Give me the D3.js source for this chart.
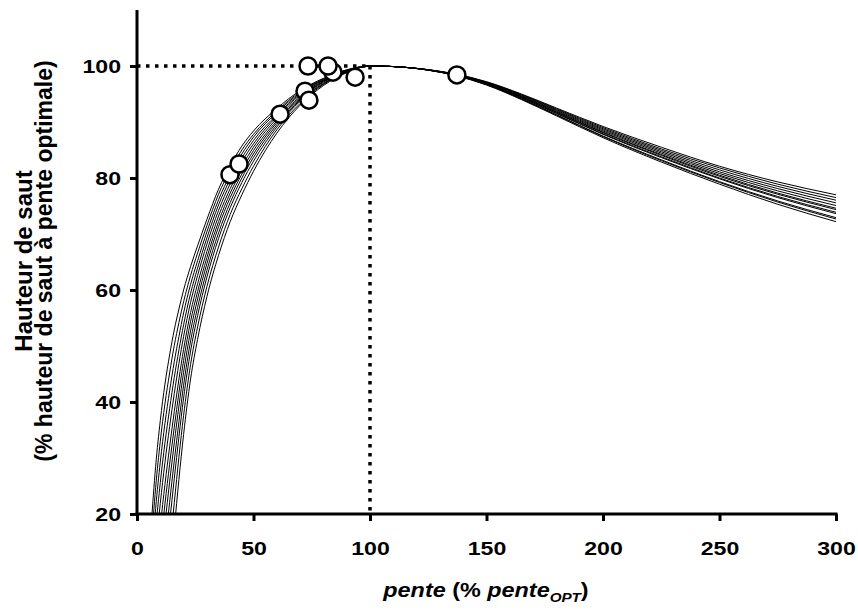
<!DOCTYPE html>
<html>
<head>
<meta charset="utf-8">
<script src="https://cdn.jsdelivr.net/npm/d3@7"></script>
<style>
  html, body { margin: 0; padding: 0; background: #fff; }
  svg { display: block; }
  text { font-family: "Liberation Sans", Arial, sans-serif; font-weight: bold; fill: #000; }
</style>
</head>
<body>
<svg id="chart" width="858" height="610"></svg>
<script>
// ---- data ----
const xGrid = [6, 8, 10, 12, 14, 16, 18, 20, 23, 26, 30, 35, 40, 45, 50, 60, 70, 80, 90, 100,
               110, 125, 137, 150, 165, 180, 200, 225, 250, 275, 300];
const curve0  = [17.4, 28.5, 36.7, 43.2, 48.4, 52.9, 56.6, 60.0, 64.2, 67.9, 72.6, 78.0, 82.2, 85.7, 88.4, 92.4, 95.6, 97.8, 99.3, 100,
                 99.9, 99.34, 98.52, 97.14, 94.9, 92.36, 89.0, 85.2, 81.8, 78.9, 76.5];
const curve1  = [13.8, 24.7, 33.0, 39.7, 45.2, 50.1, 54.2, 57.9, 62.6, 66.6, 71.5, 77.1, 81.4, 85.0, 87.8, 92.0, 95.4, 97.7, 99.3, 100,
                 99.9, 99.35, 98.55, 97.2, 95.0, 92.5, 89.2, 85.5, 82.1, 79.3, 77.0];
const curve2  = [10.2, 21.0, 29.3, 36.2, 42.0, 47.2, 51.7, 55.9, 61.0, 65.2, 70.4, 76.1, 80.6, 84.3, 87.3, 91.7, 95.2, 97.6, 99.2, 100,
                 99.9, 99.32, 98.46, 97.02, 94.7, 92.08, 88.6, 84.7, 81.1, 78.1, 75.56];
const curve3  = [6.6, 17.2, 25.6, 32.7, 38.8, 44.4, 49.3, 53.8, 59.4, 63.9, 69.3, 75.2, 79.8, 83.6, 86.7, 91.3, 95.0, 97.5, 99.2, 100,
                 99.9, 99.33, 98.49, 97.08, 94.8, 92.22, 88.8, 84.95, 81.45, 78.5, 76.04];
const curve4  = [3.0, 13.5, 21.9, 29.2, 35.6, 41.5, 46.9, 51.7, 57.8, 62.6, 68.2, 74.2, 79.0, 82.9, 86.1, 91.0, 94.8, 97.4, 99.1, 100,
                 99.9, 99.3, 98.39, 96.87, 94.45, 91.73, 88.1, 84.05, 80.3, 77.1, 74.36];
const curve5  = [null, 9.2, 17.8, 25.3, 32.0, 38.3, 44.1, 49.4, 56.0, 61.1, 66.9, 73.2, 78.1, 82.1, 85.5, 90.6, 94.5, 97.3, 99.1, 100,
                 99.9, 99.31, 98.43, 96.96, 94.6, 91.94, 88.4, 84.45, 80.8, 77.7, 75.08];
const curve6  = [null, 5.5, 14.1, 21.8, 28.9, 35.5, 41.7, 47.4, 54.4, 59.7, 65.8, 72.2, 77.3, 81.4, 84.9, 90.2, 94.3, 97.2, 99.1, 100,
                 99.9, 99.28, 98.34, 96.78, 94.3, 91.52, 87.8, 83.65, 79.85, 76.5, 73.64];
const curve7  = [null, 1.7, 10.4, 18.3, 25.7, 32.7, 39.3, 45.3, 52.7, 58.4, 64.7, 71.3, 76.5, 80.7, 84.3, 89.9, 94.1, 97.1, 99.0, 100,
                 99.9, 99.3, 98.4, 96.9, 94.5, 91.8, 88.2, 84.2, 80.5, 77.3, 74.6];
const curve8  = [null, null, 6.2, 14.4, 22.1, 29.5, 36.5, 43.0, 50.9, 56.9, 63.5, 70.2, 75.6, 80.0, 83.7, 89.5, 93.9, 96.9, 99.0, 100,
                 99.9, 99.27, 98.3, 96.69, 94.15, 91.31, 87.5, 83.25, 79.35, 75.9, 72.92];
const curve9  = [null, null, 2.1, 10.4, 18.5, 26.3, 33.8, 40.7, 49.1, 55.4, 62.3, 69.2, 74.7, 79.2, 83.0, 89.1, 93.7, 96.8, 98.9, 100,
                 99.9, 99.29, 98.36, 96.81, 94.35, 91.59, 87.9, 83.8, 80.0, 76.7, 73.88];
const curve10 = [null, null, null, 5.2, 13.7, 22.0, 30.2, 37.6, 46.7, 53.4, 60.6, 67.7, 73.5, 78.1, 82.1, 88.6, 93.3, 96.7, 98.9, 100,
                 99.9, 99.25, 98.25, 96.6, 94.0, 91.1, 87.2, 82.85, 78.9, 75.3, 72.2];
const curve11 = [null, null, null, null, 8.5, 17.4, 26.2, 34.2, 44.1, 51.2, 58.8, 66.2, 72.2, 77.0, 81.2, 88.0, 93.0, 96.5, 98.8, 100,
                 99.9, 99.26, 98.28, 96.66, 94.1, 91.24, 87.4, 83.1, 79.2, 75.7, 72.68];
const curves = [curve0, curve1, curve2, curve3, curve4, curve5, curve6, curve7, curve8, curve9, curve10, curve11];

const pointX = [39.9, 43.8, 61.4, 72.1, 73.8, 73.4, 84.1, 82.0, 93.6, 137.3];
const pointY = [80.6, 82.5, 91.4, 95.5, 93.9, 100.0, 98.9, 100.0, 98.0, 98.4];

const optX = 100, optY = 100;

const xTicks = [0, 50, 100, 150, 200, 250, 300];
const yTicks = [20, 40, 60, 80, 100];

// ---- chart ----
const svg = d3.select("#chart");
const x = d3.scaleLinear().domain([0, 300]).range([137, 836]);
const y = d3.scaleLinear().domain([20, 110]).range([514, 10]);

svg.append("defs").append("clipPath").attr("id", "plot")
  .append("rect").attr("x", x(0)).attr("y", y(110)).attr("width", x(300) - x(0) + 2).attr("height", y(20) - y(110));

// curves
const line = d3.line()
  .defined(d => d[1] != null)
  .x(d => x(d[0])).y(d => y(d[1]))
  .curve(d3.curveMonotoneX);

svg.append("g").attr("clip-path", "url(#plot)")
  .selectAll("path").data(curves).join("path")
  .attr("d", c => line(xGrid.map((xv, i) => [xv, c[i]])))
  .attr("fill", "none").attr("stroke", "#000").attr("stroke-width", 1);

// dotted reference lines
svg.append("line")
  .attr("x1", x(0)).attr("x2", x(optX)).attr("y1", y(optY)).attr("y2", y(optY))
  .attr("stroke", "#000").attr("stroke-width", 3.5).attr("stroke-dasharray", "3.5,5.5");
svg.append("line")
  .attr("x1", x(optX)).attr("x2", x(optX)).attr("y1", y(optY)).attr("y2", y(20))
  .attr("stroke", "#000").attr("stroke-width", 3.5).attr("stroke-dasharray", "3.5,5.5");

// axes
const xAxis = d3.axisBottom(x).tickValues(xTicks).tickSize(7).tickFormat(d3.format("d"));
const gx = svg.append("g").attr("transform", `translate(0,${y(20)})`).call(xAxis);
gx.select(".domain").attr("stroke-width", 3).attr("d", `M${x(0) - 1.5},0H${x(300) + 1.5}`);
gx.selectAll(".tick line").attr("stroke-width", 3);
gx.selectAll(".tick text").remove();
gx.selectAll(".tick").append("text")
  .attr("transform", "translate(0,41) scale(1.25,1)")
  .attr("text-anchor", "middle")
  .style("font-size", "18.5px")
  .text(d => d);

const yAxis = d3.axisLeft(y).tickValues(yTicks).tickSize(7);
const gy = svg.append("g").attr("transform", `translate(${x(0)},0)`).call(yAxis);
gy.select(".domain").attr("stroke-width", 3).attr("d", `M0,${y(110)}V${y(20) + 1.5}`);
gy.selectAll(".tick line").attr("stroke-width", 3);
gy.selectAll(".tick text").remove();
gy.selectAll(".tick").append("text")
  .attr("transform", "translate(-16,6.8) scale(1.25,1)")
  .attr("text-anchor", "end")
  .style("font-size", "18.5px")
  .text(d => d);

// points
svg.append("g").selectAll("circle").data(pointX).join("circle")
  .attr("cx", (d) => x(d)).attr("cy", (d, i) => y(pointY[i]))
  .attr("r", 8.5).attr("fill", "#fff").attr("stroke", "#000").attr("stroke-width", 2.5);

// axis titles
const xt = svg.append("text")
  .attr("transform", "translate(486,597) scale(1.17,1)")
  .attr("text-anchor", "middle").style("font-size", "20px");
xt.append("tspan").style("font-style", "italic").text("pente");
xt.append("tspan").text(" (% ");
xt.append("tspan").style("font-style", "italic").text("pente");
xt.append("tspan").style("font-style", "italic").style("font-size", "13px").attr("dy", 5).text("OPT");
xt.append("tspan").attr("dy", -5).text(")");

svg.append("text")
  .attr("transform", "translate(32,261) rotate(-90)")
  .attr("text-anchor", "middle").style("font-size", "24px")
  .text("Hauteur de saut");
svg.append("text")
  .attr("transform", "translate(52,261) rotate(-90)")
  .attr("text-anchor", "middle").style("font-size", "23px")
  .text("(% hauteur de saut à pente optimale)");
</script>
</body>
</html>
